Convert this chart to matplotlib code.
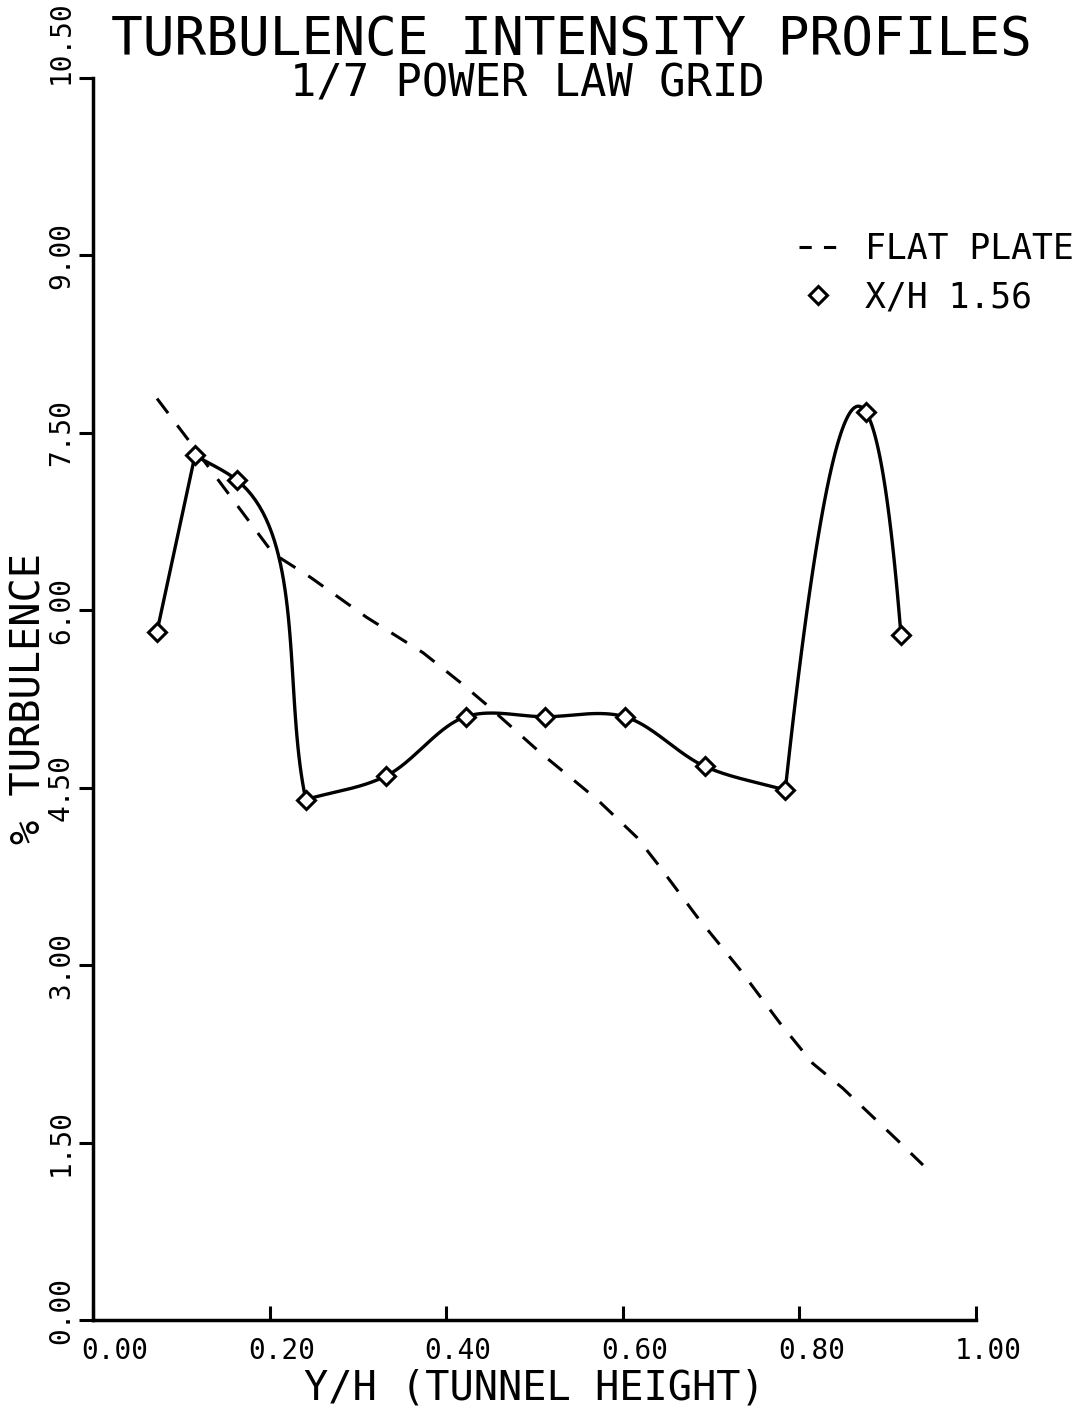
import numpy as np
import matplotlib
matplotlib.use("Agg")
import matplotlib.pyplot as plt
from matplotlib.lines import Line2D
from matplotlib.transforms import ScaledTranslation

# ---- data ----
meas_x = [0.0725, 0.1155, 0.163, 0.241, 0.332, 0.422, 0.512, 0.602, 0.693, 0.784, 0.875, 0.915]
meas_y = [5.82, 7.31, 7.10, 4.40, 4.60, 5.10, 5.10, 5.10, 4.68, 4.48, 7.68, 5.79]
# indices where the plotter's smoothed trace has a corner, and the smoothing per piece
corner_idx = [0, 1, 3, 9, 11]
piece_style = ["line", "cr0.9", "cr0.5", "quad"]

flat_x = [0.0725, 0.110, 0.155, 0.204, 0.246, 0.310, 0.374, 0.416, 0.446, 0.506,
          0.571, 0.616, 0.639, 0.684, 0.733, 0.778, 0.815, 0.849, 0.911, 0.940]
flat_y = [7.79, 7.42, 6.97, 6.48, 6.28, 5.94, 5.64, 5.39, 5.20, 4.80,
          4.40, 4.08, 3.86, 3.41, 2.96, 2.51, 2.17, 1.96, 1.52, 1.31]

x_ticks = [0.0, 0.2, 0.4, 0.6, 0.8, 1.0]
y_ticks = [0.0, 1.5, 3.0, 4.5, 6.0, 7.5, 9.0, 10.5]

FONT = "DejaVu Sans Mono"


def catmull_rom(P, alpha=0.5, n=40):
    """Parametric Catmull-Rom through the points P (N x 2)."""
    P = np.vstack([2 * P[0] - P[1], P, 2 * P[-1] - P[-2]])
    out = []
    for i in range(1, len(P) - 2):
        p0, p1, p2, p3 = P[i - 1], P[i], P[i + 1], P[i + 2]
        t0 = 0.0
        t1 = t0 + np.linalg.norm(p1 - p0) ** alpha
        t2 = t1 + np.linalg.norm(p2 - p1) ** alpha
        t3 = t2 + np.linalg.norm(p3 - p2) ** alpha
        t = np.linspace(t1, t2, n)[:, None]
        a1 = (t1 - t) / (t1 - t0) * p0 + (t - t0) / (t1 - t0) * p1
        a2 = (t2 - t) / (t2 - t1) * p1 + (t - t1) / (t2 - t1) * p2
        a3 = (t3 - t) / (t3 - t2) * p2 + (t - t2) / (t3 - t2) * p3
        b1 = (t2 - t) / (t2 - t0) * a1 + (t - t0) / (t2 - t0) * a2
        b2 = (t3 - t) / (t3 - t1) * a2 + (t - t1) / (t3 - t1) * a3
        c = (t2 - t) / (t2 - t1) * b1 + (t - t1) / (t2 - t1) * b2
        out.append(c if i == 1 else c[1:])
    return np.vstack(out)


def quad_chord(P, n=120):
    """Parametric parabola (chord-length parameter) through 3 points."""
    d = np.r_[0, np.cumsum(np.linalg.norm(np.diff(P, axis=0), axis=1))]
    t = np.linspace(d[0], d[-1], n)
    C = np.zeros((n, 2))
    for j in range(3):
        L = np.ones_like(t)
        for k in range(3):
            if k != j:
                L *= (t - d[k]) / (d[j] - d[k])
        C += L[:, None] * P[j]
    return C


def smooth(xs, ys, style, sx, sy):
    P = np.column_stack([np.asarray(xs) * sx, np.asarray(ys) * sy])
    if style == "line":
        C = P
    elif style == "quad":
        C = quad_chord(P)
    else:
        C = catmull_rom(P, alpha=float(style[2:]))
    return C[:, 0] / sx, C[:, 1] / sy


W, H = 1081, 1408
fig = plt.figure(figsize=(W / 100, H / 100), dpi=100)
ax = fig.add_axes([93 / W, 88 / H, 883 / W, 1242 / H])

ax.set_xlim(0, 1.0)
ax.set_ylim(0, 10.5)

# flat plate dashed line
ax.plot(flat_x, flat_y, color="black", lw=2.2, dashes=(6, 5), solid_capstyle="butt")

# measured smooth trace (piecewise) + markers
sx, sy = 883.0, 1242.0 / 10.5
for a, b, st in zip(corner_idx[:-1], corner_idx[1:], piece_style):
    cx, cy = smooth(meas_x[a:b + 1], meas_y[a:b + 1], st, sx, sy)
    ax.plot(cx, cy, color="black", lw=2.4, solid_joinstyle="round",
            solid_capstyle="round")
ax.plot(meas_x, meas_y, linestyle="none", marker="D", ms=9.5, mfc="white",
        mec="black", mew=2.2)

# spines / ticks
for s in ["top", "right"]:
    ax.spines[s].set_visible(False)
for s in ["left", "bottom"]:
    ax.spines[s].set_linewidth(2.5)

ax.set_xticks(x_ticks)
ax.set_yticks(y_ticks)
ax.set_xticklabels([f"{v:.2f}" for v in x_ticks], fontfamily=FONT, fontsize=20)
ax.set_yticklabels([f"{v:.2f}" for v in y_ticks], fontfamily=FONT, fontsize=20,
                   rotation=90, va="center")
ax.tick_params(axis="x", direction="in", length=10, width=2.2, pad=12)
ax.tick_params(axis="y", direction="out", length=10, width=2.2, pad=3)

# plotter-style label offsets
xl = ax.get_xticklabels()
for k, lab in enumerate(xl):
    dx = 22 if k == 0 else 12
    lab.set_transform(lab.get_transform() + ScaledTranslation(dx / 100, 0, fig.dpi_scale_trans))
yl = ax.get_yticklabels()
yl[-1].set_transform(yl[-1].get_transform() + ScaledTranslation(0, 36 / 100, fig.dpi_scale_trans))
yl[0].set_transform(yl[0].get_transform() + ScaledTranslation(0, 9 / 100, fig.dpi_scale_trans))

ax.set_xlabel("Y/H (TUNNEL HEIGHT)", fontfamily=FONT, fontsize=29, labelpad=3)
ax.set_ylabel("% TURBULENCE", fontfamily=FONT, fontsize=29, labelpad=-2)

fig.text(571 / W, 1 - 55 / H, "TURBULENCE INTENSITY PROFILES", fontfamily=FONT,
         fontsize=38, ha="center", va="baseline")
fig.text(527 / W, 1 - 97 / H, "1/7 POWER LAW GRID", fontfamily=FONT,
         fontsize=31.5, ha="center", va="baseline")

handles = [
    Line2D([], [], color="black", lw=2.2, dashes=(4, 4)),
    Line2D([], [], linestyle="none", marker="D", ms=9.5, mfc="white", mec="black", mew=2.2),
]
leg = ax.legend(handles, ["FLAT PLATE", "X/H 1.56"], loc="upper left",
                bbox_to_anchor=(0.80, 0.876), frameon=False, borderpad=0,
                borderaxespad=0, handlelength=1.1, handletextpad=0.8,
                labelspacing=0.42, prop={"family": FONT, "size": 25})

fig.savefig("out.png", dpi=100, facecolor="white")
